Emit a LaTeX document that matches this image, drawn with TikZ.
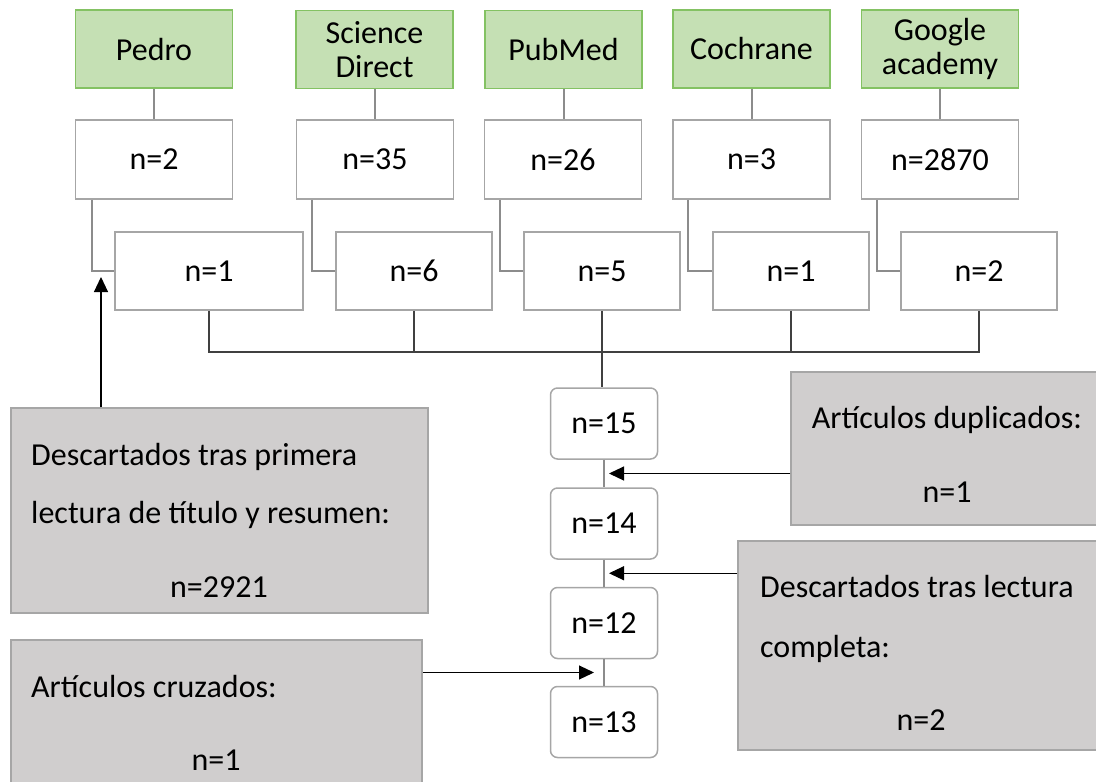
\documentclass[tikz,border=0pt]{standalone}
\usepackage{fontspec}
\setmainfont{Carlito}
\usetikzlibrary{arrows.meta,positioning,calc}
\definecolor{srcfill}{HTML}{C5E0B4}
\definecolor{srcline}{HTML}{84C263}
\definecolor{boxline}{HTML}{A6A6A6}
\definecolor{linkgray}{HTML}{8C8C8C}
\definecolor{exclfill}{HTML}{D0CECE}
\definecolor{busline}{HTML}{404040}

\begin{document}
\begin{tikzpicture}[x=1pt,y=-1pt,
  every node/.style={font=\fontsize{32}{34}\selectfont,inner sep=0pt},
  src/.style={draw=srcline,fill=srcfill,line width=1.3pt,minimum width=157pt,minimum height=78pt,align=center},
  hits/.style={draw=boxline,fill=white,line width=1.5pt,minimum width=157pt,minimum height=79pt},
  kept/.style={hits,minimum width=156pt,minimum height=78pt},
  stage/.style={draw=boxline,fill=white,line width=1.5pt,rounded corners=7pt,minimum width=107pt,minimum height=71pt},
  excl/.style={draw=boxline,fill=exclfill,line width=1.5pt},
  link/.style={draw=linkgray,line width=2pt},
  bus/.style={draw=busline,line width=1.2pt},
  arr/.style={draw=black,line width=1.1pt,-{Triangle[length=15pt,width=14pt]}}]
\useasboundingbox (0,0) rectangle (1096,782);

% databases
\node[src] (pedro) at (154,49) {Pedro};
\node[src] (scidir) at (374.5,49.5) {Science\\Direct};
\node[src] (pubmed) at (563.5,49.5) {PubMed};
\node[src] (cochr) at (751.5,49) {Cochrane};
\node[src] (google) at (940,49) {Google\\academy};

% hits per database
\node[hits] (hitP) at (154,159.5) {n=2};
\node[hits] (hitS) at (375,159.5) {n=35};
\node[hits] (hitM) at (563,159.5) {n=26};
\node[hits] (hitC) at (751.5,159.5) {n=3};
\node[hits] (hitG) at (940,159.5) {n=2870};
\draw[link] (pedro.south) -- (pedro.south |- hitP.north);
\draw[link] (scidir.south) -- (scidir.south |- hitS.north);
\draw[link] (pubmed.south) -- (pubmed.south |- hitM.north);
\draw[link] (cochr.south) -- (cochr.south |- hitC.north);
\draw[link] (google.south) -- (google.south |- hitG.north);

% kept after screening
\node[kept,minimum width=188pt] (keepP) at (209,271) {n=1};
\node[kept] (keepS) at (414,271) {n=6};
\node[kept] (keepM) at (602,271) {n=5};
\node[kept] (keepC) at (791,271) {n=1};
\node[kept] (keepG) at (979,271) {n=2};
\draw[link] ([xshift=17pt]hitP.south west) |- (keepP.west);
\draw[link] ([xshift=16pt]hitS.south west) |- (keepS.west);
\draw[link] ([xshift=16pt]hitM.south west) |- (keepM.west);
\draw[link] ([xshift=16pt]hitC.south west) |- (keepC.west);
\draw[link] ([xshift=16pt]hitG.south west) |- (keepG.west);

% merged chain
\node[stage] (c15) at (604,423.5) {n=15};
\node[stage] (c14) at (604,523.5) {n=14};
\node[stage] (c12) at (604,623) {n=12};
\node[stage] (c13) at (604,722) {n=13};
\draw[link] (c15) -- (c14);\draw[link] (c14) -- (c12);\draw[link] (c12) -- (c13);

\coordinate (merge) at (0,352);
\draw[bus] (keepP.south) -- (keepP.south |- merge) -- (keepG.south |- merge) -- (keepG.south);
\draw[bus] (keepS.south) -- (keepS.south |- merge);
\draw[bus] (keepC.south) -- (keepC.south |- merge);
\draw[bus] (keepM.south) -- (keepM.south |- c15.north);

% exclusions
\node[excl,minimum width=417pt,minimum height=205pt] (prim) at (219.5,510.5) {};
\node[anchor=base west] (primA) at (31,465) {Descartados tras primera};
\node[anchor=base west] (primB) at (31,523) {lectura de título y resumen:};
\node[anchor=base] (primN) at (219,597) {n=2921};

\node[excl,minimum width=411pt,minimum height=170pt] (cruz) at (216.5,725) {};
\node[anchor=base west] (cruzA) at (31,697) {Artículos cruzados:};
\node[anchor=base] (cruzN) at (216,770) {n=1};

\node[excl,minimum width=313pt,minimum height=153pt] (dupl) at (947.5,448.5) {};
\node[anchor=base] (duplA) at (947,428) {Artículos duplicados:};
\node[anchor=base] (duplN) at (947,502) {n=1};

\node[excl,minimum width=366pt,minimum height=209pt] (lect) at (921,645.5) {};
\node[anchor=base west] (lectA) at (760,597) {Descartados tras lectura};
\node[anchor=base west] (lectB) at (760,657) {completa:};
\node[anchor=base] (lectN) at (921,730) {n=2};

\coordinate (tipA) at (101,277);
\coordinate (j1) at ($(c15.south)!0.5!(c14.north)$);
\coordinate (j2) at ($(c14.south)!0.5!(c12.north)$);
\coordinate (j3) at ($(c12.south)!0.5!(c13.north)$);
\draw[arr] (prim.north -| tipA) -- (tipA);
\draw[arr] (dupl.west |- j1) -- ([xshift=5pt]j1);
\draw[arr] (lect.west |- j2) -- ([xshift=5pt]j2);
\draw[arr] (cruz.east |- j3) -- ([xshift=-10pt]j3);
\end{tikzpicture}
\end{document}
